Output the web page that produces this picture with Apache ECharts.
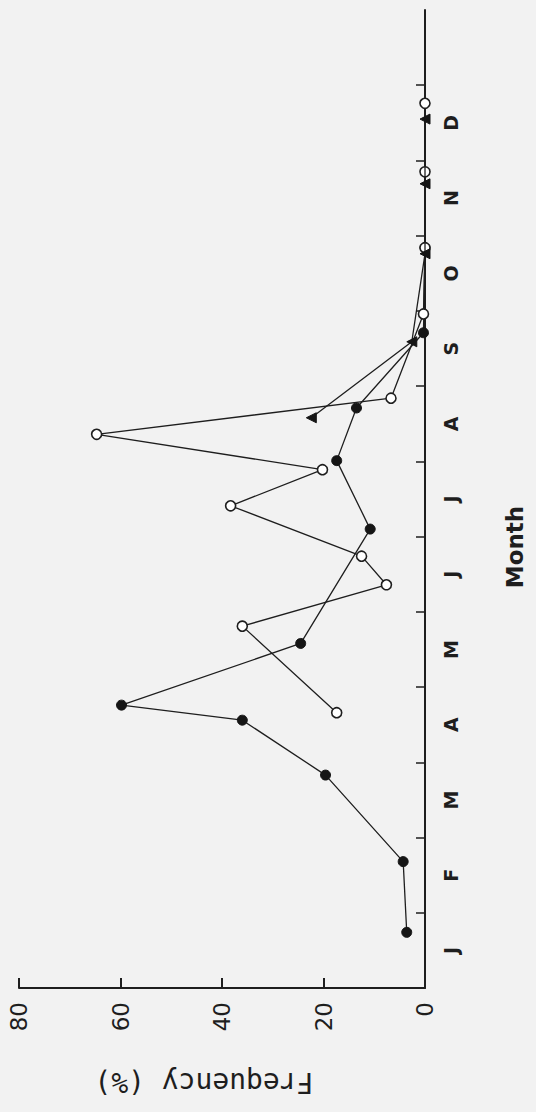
<!DOCTYPE html>
<html>
<head>
<meta charset="utf-8">
<script src="https://cdn.jsdelivr.net/npm/echarts@6/dist/echarts.min.js"></script>
<style>
html,body{margin:0;padding:0;background:#f2f2f2;}
#chart{width:536px;height:1112px;}
</style>
</head>
<body>
<div id="chart"></div>
<script>
// Month labels (category letters) and tick values
var monthLabels = ['J','F','M','A','M','J','J','A','S','O','N','D'];
var freqTicks = [0, 20, 40, 60, 80];

// Series 1: filled circles (month position as decimal month, frequency %)
var filledMonth = [0.74, 1.68, 2.83, 3.56, 3.76, 4.58, 6.10, 7.01, 7.71, 8.71, 9.84];
var filledValue = [3.6, 4.3, 19.6, 36.0, 59.8, 24.5, 10.8, 17.4, 13.5, 0.3, 0];

// Series 2: open circles
var openMonth = [3.66, 4.81, 5.36, 5.74, 6.41, 6.89, 7.36, 7.84, 8.96, 9.84, 10.85, 11.76];
var openValue = [17.4, 36.0, 7.6, 12.5, 38.3, 20.2, 64.7, 6.7, 0.3, 0, 0, 0];

// Series 3: filled triangles
var triMonth = [7.58, 8.59, 9.76, 10.69, 11.55];
var triValue = [22.4, 2.6, 0, 0, 0];

function pairs(vals, months) {
  return vals.map(function (v, i) { return [v, months[i]]; });
}
var tickPos = monthLabels.map(function (m, i) { return i + 1; });
var labelPos = monthLabels.map(function (m, i) { return i + 0.5; });

var ink = '#1e1e1e';
var chart = echarts.init(document.getElementById('chart'), null, {renderer: 'svg'});
chart.setOption({
  backgroundColor: '#f2f2f2',
  animation: false,
  grid: {left: 19, right: 111, top: 10, bottom: 124},
  xAxis: {
    type: 'value',
    inverse: true,
    min: freqTicks[0],
    max: freqTicks[freqTicks.length - 1],
    interval: 20,
    position: 'bottom',
    splitLine: {show: false},
    axisLine: {show: true, onZero: false, lineStyle: {color: ink, width: 2}},
    axisTick: {show: true, inside: true, length: 10, lineStyle: {color: ink, width: 2}},
    axisLabel: {rotate: 90, margin: 14, fontSize: 23, fontFamily: 'DejaVu Sans', color: ink},
    name: 'Frequency (%)',
    nameLocation: 'middle',
    nameRotate: 180,
    nameGap: 80,
    nameTextStyle: {fontSize: 28, fontFamily: 'DejaVu Sans Mono', color: ink, padding: [0, 0, 0, 36]}
  },
  yAxis: {
    type: 'value',
    min: 0,
    max: 13,
    position: 'right',
    splitLine: {show: false},
    axisLine: {show: true, onZero: false, lineStyle: {color: ink, width: 2}},
    axisTick: {show: true, inside: true, length: 9, customValues: tickPos, lineStyle: {color: ink, width: 1.5}},
    axisLabel: {
      rotate: 90, margin: 16, fontSize: 19, fontWeight: 'bold', fontFamily: 'DejaVu Sans', color: ink,
      customValues: labelPos,
      formatter: function (v) { return monthLabels[Math.floor(v)] || ''; }
    },
    name: 'Month',
    nameLocation: 'middle',
    nameRotate: 90,
    nameGap: 78,
    nameTextStyle: {fontSize: 23, fontWeight: 'bold', fontFamily: 'DejaVu Sans', color: ink, padding: [0, 96, 0, 0]}
  },
  series: [
    {
      type: 'line', name: 'filled',
      data: pairs(filledValue, filledMonth),
      symbol: 'circle', symbolSize: 10,
      lineStyle: {color: ink, width: 1.3},
      itemStyle: {color: '#151515', borderColor: '#151515', borderWidth: 1},
      z: 2
    },
    {
      type: 'line', name: 'open',
      data: pairs(openValue, openMonth),
      symbol: 'circle', symbolSize: 10,
      lineStyle: {color: ink, width: 1.3},
      itemStyle: {color: '#ffffff', borderColor: ink, borderWidth: 1.6},
      z: 3
    },
    {
      type: 'line', name: 'triangle',
      data: pairs(triValue, triMonth),
      symbol: 'triangle', symbolSize: 10, symbolRotate: 90,
      lineStyle: {color: ink, width: 1.3},
      itemStyle: {color: '#151515', borderColor: '#151515', borderWidth: 1},
      z: 4
    }
  ]
});
</script>
</body>
</html>
